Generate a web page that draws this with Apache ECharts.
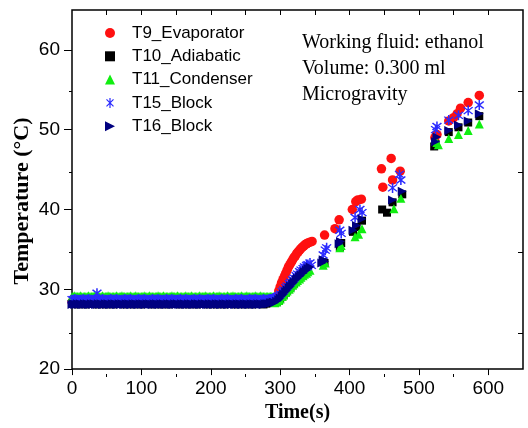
<!DOCTYPE html>
<html>
<head>
<meta charset="utf-8">
<script src="https://cdn.jsdelivr.net/npm/echarts@6/dist/echarts.min.js"></script>
<style>html,body{margin:0;padding:0;background:#fff}#c{width:528px;height:428px}</style>
</head>
<body>
<div id="c"></div>
<script>
// ---- data ----
const seriesNames = ['T9_Evaporator', 'T10_Adiabatic', 'T11_Condenser', 'T15_Block', 'T16_Block'];
const annotationLines = ['Working fluid: ethanol', 'Volume: 0.300 ml', 'Microgravity'];
const xTitle = 'Time(s)';
const yTitle = 'Temperature (\u00B0C)';
const xTickValues = [0, 100, 200, 300, 400, 500, 600];
const yTickValues = [20, 30, 40, 50, 60];

// flat (pre-heating) period, time stamps (s)
const baseTime = [0,4,8,12,16,20,24,28,32,36,40,44,48,52,56,60,64,68,72,76,80,84,88,92,96,100,104,108,112,116,120,124,128,132,136,140,144,148,152,156,160,164,168,172,176,180,184,188,192,196,200,204,208,212,216,220,224,228,232,236,240,244,248,252,256,260,264,268,272,276,280,284,288];
const denseTime = [0,2,4,6,8,10,12,14,16,18, 20,22,24,26,28,30,32,34,36,38, 40,42,44,46,48,50,52,54,56,58, 60,62,64,66,68,70,72,74,76,78, 80,82,84,86,88,90,92,94,96,98, 100,102,104,106,108,110,112,114,116,118, 120,122,124,126,128,130,132,134,136,138, 140,142,144,146,148,150,152,154,156,158, 160,162,164,166,168,170,172,174,176,178, 180,182,184,186,188,190,192,194,196,198, 200,202,204,206,208,210,212,214,216,218, 220,222,224,226,228,230,232,234,236,238, 240,242,244,246,248,250,252,254,256,258, 260,262,264,266,268,270,272,274,276,278, 280,282,284,286,288,290];

const t9Base  = [28.4,28.4,28.3,28.4,28.4,28.3,28.4,28.4,28.4,28.3, 28.4,28.4,28.3,28.4,28.4,28.3,28.4,28.4,28.4,28.3, 28.4,28.4,28.3,28.4,28.4,28.3,28.4,28.4,28.4,28.3, 28.4,28.4,28.3,28.4,28.4,28.3,28.4,28.4,28.4,28.3, 28.4,28.4,28.3,28.4,28.4,28.3,28.4,28.4,28.4,28.3, 28.4,28.4,28.3,28.4,28.4,28.3,28.4,28.4,28.4,28.3, 28.4,28.4,28.3,28.4,28.4,28.3,28.4,28.4,28.4,28.3, 28.4,28.5,28.6];
const t10Base = [28.2,28.2,28.1,28.2,28.2,28.1,28.2,28.2,28.2,28.1, 28.2,28.2,28.1,28.2,28.2,28.1,28.2,28.2,28.2,28.1, 28.2,28.2,28.1,28.2,28.2,28.1,28.2,28.2,28.2,28.1, 28.2,28.2,28.1,28.2,28.2,28.1,28.2,28.2,28.2,28.1, 28.2,28.2,28.1,28.2,28.2,28.1,28.2,28.2,28.2,28.1, 28.2,28.2,28.1,28.2,28.2,28.1,28.2,28.2,28.2,28.1, 28.2,28.2,28.1,28.2,28.2,28.1,28.2,28.2,28.2,28.1, 28.2,28.3,28.3];
const t11Base = [29.1,29.1,29.2,29.1,29.1,29.1,29.2,29.1,29.1,29.1, 29.1,29.1,29.2,29.1,29.1,29.1,29.2,29.1,29.1,29.1, 29.1,29.1,29.2,29.1,29.1,29.1,29.2,29.1,29.1,29.1, 29.1,29.1,29.2,29.1,29.1,29.1,29.2,29.1,29.1,29.1, 29.1,29.1,29.2,29.1,29.1,29.1,29.2,29.1,29.1,29.1, 29.1,29.1,29.2,29.1,29.1,29.1,29.2,29.1,29.1,29.1, 29.1,29.1,29.2,29.1,29.1,29.1,29.2,29.1,29.1,29.1, 29.1,29.1,29.2,29.1,29.1,29.1,29.2,29.1,29.1,29.1, 29.1,29.1,29.2,29.1,29.1,29.1,29.2,29.1,29.1,29.1, 29.1,29.1,29.2,29.1,29.1,29.1,29.2,29.1,29.1,29.1, 29.1,29.1,29.2,29.1,29.1,29.1,29.2,29.1,29.1,29.1, 29.1,29.1,29.2,29.1,29.1,29.1,29.2,29.1,29.1,29.1, 29.1,29.1,29.2,29.1,29.1,29.1,29.2,29.1,29.1,29.1, 29.1,29.1,29.2,29.1,29.1,29.1,29.2,29.1,29.1,29.1, 29.1,29.1,29.1,29.1,29.1,29.1];
const t15Base = [28.7,28.7,28.8,28.7,28.7,28.6,28.7,28.7,28.8,28.7, 28.7,28.7,28.8,28.7,28.7,28.6,28.7,28.7,29.5,28.7, 28.7,28.7,28.8,28.7,28.7,28.6,28.7,28.7,28.8,28.7, 28.7,28.7,28.8,28.7,28.7,28.6,28.7,28.7,28.8,28.7, 28.7,28.7,28.8,28.7,28.7,28.6,28.7,28.7,28.8,28.7, 28.7,28.7,28.8,28.7,28.7,28.6,28.7,28.7,28.8,28.7, 28.7,28.7,28.8,28.7,28.7,28.6,28.7,28.7,28.8,28.7, 28.7,28.7,28.8,28.7,28.7,28.6,28.7,28.7,28.8,28.7, 28.7,28.7,28.8,28.7,28.7,28.6,28.7,28.7,28.8,28.7, 28.7,28.7,28.8,28.7,28.7,28.6,28.7,28.7,28.8,28.7, 28.7,28.7,28.8,28.7,28.7,28.6,28.7,28.7,28.8,28.7, 28.7,28.7,28.8,28.7,28.7,28.6,28.7,28.7,28.8,28.7, 28.7,28.7,28.8,28.7,28.7,28.6,28.7,28.7,28.8,28.7, 28.7,28.7,28.8,28.7,28.7,28.6,28.7,28.7,28.8,28.7, 28.7,28.7,28.8,28.8,28.8,28.9];
const t16Base = [28.1,28.2,28.1,28.1,28.2,28.1,28.2,28.1,28.1,28.2, 28.1,28.2,28.1,28.1,28.2,28.1,28.2,28.1,28.1,28.2, 28.1,28.2,28.1,28.1,28.2,28.1,28.2,28.1,28.1,28.2, 28.1,28.2,28.1,28.1,28.2,28.1,28.2,28.1,28.1,28.2, 28.1,28.2,28.1,28.1,28.2,28.1,28.2,28.1,28.1,28.2, 28.1,28.2,28.1,28.1,28.2,28.1,28.2,28.1,28.1,28.2, 28.1,28.2,28.1,28.1,28.2,28.1,28.2,28.1,28.1,28.2, 28.1,28.2,28.1,28.1,28.2,28.1,28.2,28.1,28.1,28.2, 28.1,28.2,28.1,28.1,28.2,28.1,28.2,28.1,28.1,28.2, 28.1,28.2,28.1,28.1,28.2,28.1,28.2,28.1,28.1,28.2, 28.1,28.2,28.1,28.1,28.2,28.1,28.2,28.1,28.1,28.2, 28.1,28.2,28.1,28.1,28.2,28.1,28.2,28.1,28.1,28.2, 28.1,28.2,28.1,28.1,28.2,28.1,28.2,28.1,28.1,28.2, 28.1,28.2,28.1,28.1,28.2,28.1,28.2,28.1,28.1,28.2, 28.2,28.2,28.2,28.3,28.3,28.4];

// heating period
const t9Time  = [292,295,298,300,302,304,306,308,310,312,314,316,318,320,322,324,326,328,330,332,334,336,338,340,343,346,364,379,385,404,409,412,417,446,448,460,462,473,523,526,543,550,555,560,571,587];
const t9Temp  = [28.6,29.0,29.8,30.3,30.8,31.2,31.6,32.0,32.4,32.8,33.1,33.4,33.7,34.0,34.2,34.5,34.7,34.9,35.1,35.3,35.4,35.6,35.7,35.8,35.9,36.0,36.8,37.6,38.7,40.0,41.0,41.2,41.3,45.1,42.8,46.4,43.7,44.8,49.0,49.4,51.1,51.5,52.0,52.7,53.4,54.3];

const t10Time = [292,295,298,300,303,305,308,310,313,315,318,320,323,325,328,330,333,335,338,340,362,364,386,388,405,410,418,447,454,462,476,522,524,543,557,571,587];
const t10Temp = [28.3,28.4,28.6,28.8,29.1,29.3,29.6,29.8,30.1,30.3,30.6,30.8,31.1,31.3,31.5,31.7,31.9,32.1,32.3,32.5,33.4,33.3,35.3,35.8,37.2,37.8,38.6,40.0,39.6,40.9,41.9,47.9,48.2,49.7,50.3,50.9,51.7];

const t11Time = [292,295,298,300,303,305,308,310,313,315,318,320,323,325,328,330,333,335,338,340,343,362,365,386,388,408,413,418,464,474,526,528,543,557,571,587];
const t11Temp = [28.3,28.4,28.6,28.8,29.1,29.3,29.6,29.8,30.0,30.2,30.5,30.7,30.9,31.1,31.3,31.5,31.7,31.9,32.0,32.2,32.4,33.0,33.3,35.2,35.5,36.6,36.9,37.6,40.1,41.4,48.4,48.1,48.9,49.4,49.9,50.7];

const t15Time = [292,295,298,300,303,305,308,310,313,315,318,320,323,325,328,330,333,335,338,340,343,345,362,365,367,386,388,408,415,418,462,472,474,524,526,543,557,571,587];
const t15Temp = [28.9,29.0,29.2,29.4,29.7,29.9,30.2,30.4,30.7,30.9,31.2,31.4,31.7,31.9,32.2,32.4,32.6,32.8,33.0,33.1,33.3,33.0,34.3,34.9,35.2,37.4,37.0,39.0,40.0,39.6,42.7,44.4,43.7,50.0,50.4,51.2,51.8,52.4,53.1];

const t16Time = [292,295,298,300,303,305,308,310,313,315,318,320,323,325,328,330,333,335,338,340,343,360,362,364,385,387,405,410,418,462,476,524,526,543,557,571,587];
const t16Temp = [28.3,28.5,28.7,28.9,29.2,29.4,29.7,29.9,30.2,30.4,30.7,30.9,31.2,31.4,31.6,31.8,32.0,32.2,32.4,32.6,32.8,33.3,33.7,33.5,35.7,36.0,37.4,38.0,38.8,41.2,42.3,48.5,49.1,49.9,50.6,51.1,52.0];

// ---- build ----
function pts(bt, bv, tt, tv) {
  const out = [];
  bt.forEach((t, i) => out.push([t, bv[i]]));
  tt.forEach((t, i) => out.push([t, tv[i]]));
  return out;
}
const ASTER = 'path://M4.4,0 L5.6,0 L5.6,10 L4.4,10 Z M1.08,1.92 L1.92,1.08 L8.92,8.08 L8.08,8.92 Z M8.08,1.08 L8.92,1.92 L1.92,8.92 L1.08,8.08 Z';
const RTRI = 'path://M0,0 L10,5 L0,10 Z';
const styles = [
  {color: '#ff1010', symbol: 'circle', size: 9.5},
  {color: '#000000', symbol: 'rect', size: 8},
  {color: '#10ee10', symbol: 'triangle', size: 9},
  {color: '#2a2aff', symbol: ASTER, size: 10},
  {color: '#000080', symbol: RTRI, size: 9}
];
const dataSets = [
  pts(baseTime, t9Base, t9Time, t9Temp),
  pts(baseTime, t10Base, t10Time, t10Temp),
  pts(denseTime, t11Base, t11Time, t11Temp),
  pts(denseTime, t15Base, t15Time, t15Temp),
  pts(denseTime, t16Base, t16Time, t16Temp)
];

const minorX = [50, 150, 250, 350, 450, 550];
const topX = [50, 100, 150, 200, 250, 300, 350, 400, 450, 500, 550, 600];
const minorY = [25, 35, 45, 55];

const gridRect = {left: 72, top: 10, width: 451, height: 364};
const labelFont = {fontFamily: 'Liberation Sans, Arial, sans-serif', fontSize: 19, color: '#000'};
const nameFont = {fontFamily: 'Liberation Serif, Times New Roman, serif', fontSize: 20, fontWeight: 'bold', color: '#000'};

function xAx(grid, pos, opts) {
  return Object.assign({type: 'value', gridIndex: grid, position: pos, min: 0, max: 650,
    splitLine: {show: false}, axisLine: {show: false}, axisLabel: {show: false}}, opts);
}
function yAx(grid, pos, opts) {
  return Object.assign({type: 'value', gridIndex: grid, position: pos, min: 20, max: 65,
    splitLine: {show: false}, axisLine: {show: false}, axisLabel: {show: false}}, opts);
}

const option = {
  animation: false,
  backgroundColor: '#fff',
  grid: [
    Object.assign({show: true, borderColor: '#000', borderWidth: 1.5, backgroundColor: 'transparent'}, gridRect),
    Object.assign({show: false}, gridRect)
  ],
  xAxis: [
    xAx(0, 'bottom', {
      name: xTitle, nameLocation: 'middle', nameGap: 30, nameTextStyle: nameFont,
      axisTick: {show: true, inside: false, length: 6, customValues: xTickValues, lineStyle: {color: '#000', width: 1}},
      axisLabel: Object.assign({show: true, margin: 10, customValues: xTickValues}, labelFont)
    }),
    xAx(0, 'top', {axisTick: {show: true, inside: true, length: 5, customValues: topX, lineStyle: {color: '#000', width: 1}}}),
    xAx(1, 'bottom', {axisTick: {show: true, inside: false, length: 3, customValues: minorX, lineStyle: {color: '#000', width: 1}}})
  ],
  yAxis: [
    yAx(0, 'left', {
      axisTick: {show: true, inside: false, length: 6, customValues: yTickValues, lineStyle: {color: '#000', width: 1}},
      axisLabel: Object.assign({show: true, margin: 12, customValues: yTickValues}, labelFont)
    }),
    yAx(0, 'right', {axisTick: {show: true, inside: true, length: 8, customValues: yTickValues, lineStyle: {color: '#000', width: 1}}}),
    yAx(1, 'left', {axisTick: {show: true, inside: false, length: 3, customValues: minorY, lineStyle: {color: '#000', width: 1}}}),
    yAx(1, 'right', {axisTick: {show: true, inside: true, length: 5, customValues: minorY, lineStyle: {color: '#000', width: 1}}})
  ],
  legend: {
    orient: 'vertical', left: 100, top: 18, itemWidth: 10, itemHeight: 10, itemGap: 3.3,
    data: seriesNames,
    textStyle: {fontFamily: 'Liberation Sans, Arial, sans-serif', fontSize: 17, color: '#000', lineHeight: 20, padding: [0, 0, 0, 12]},
    selectedMode: false
  },
  graphic: [{
    type: 'text', left: 302, top: 30,
    style: {text: annotationLines.join('\n'), font: '20px "Liberation Serif", "Times New Roman", serif', fill: '#000', lineHeight: 26}
  }, {
    type: 'text', x: 22, y: 201, rotation: Math.PI / 2,
    style: {text: yTitle, font: 'bold 22px "Liberation Serif", "Times New Roman", serif', fill: '#000', align: 'center', verticalAlign: 'middle'}
  }],
  series: seriesNames.map((n, i) => ({
    name: n, type: 'scatter', xAxisIndex: 0, yAxisIndex: 0,
    symbol: styles[i].symbol, symbolSize: styles[i].size,
    itemStyle: {color: styles[i].color, opacity: 1},
    data: dataSets[i]
  }))
};
const chart = echarts.init(document.getElementById('c'), null, {renderer: 'canvas'});
chart.setOption(option);
</script>
</body>
</html>
